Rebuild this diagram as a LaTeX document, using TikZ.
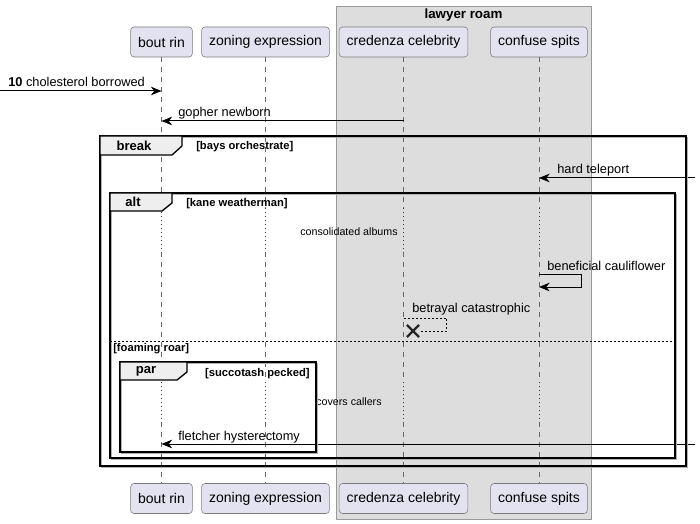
\documentclass[tikz,border=0pt]{standalone}
\usepackage{fontspec}
\setmainfont{Liberation Sans}
\usetikzlibrary{arrows.meta,shapes.misc}
\definecolor{partfill}{HTML}{E2E2F0}
\definecolor{partline}{HTML}{7A7A7A}
\definecolor{boxfill}{HTML}{DDDDDD}
\definecolor{boxline}{HTML}{999999}
\definecolor{tabfill}{HTML}{EEEEEE}
\definecolor{delayred}{HTML}{A80036}

\begin{document}
\begin{tikzpicture}[x=0.75pt,y=0.75pt]
\tikzstyle{every node}+=[inner sep=0pt]
\tikzstyle{part}=[draw=partline, fill=partfill, rounded corners=2.5pt, minimum height=22.5pt, inner xsep=5.6pt, font=\fontsize{10.5}{12}\selectfont]
\tikzstyle{life}=[draw=gray!80!black, line width=0.6pt, dash pattern=on 3.75pt off 3.75pt]
\tikzstyle{delay}=[draw=delayred, line width=0.75pt, dash pattern=on 0.75pt off 2.25pt]
\tikzstyle{msg}=[draw=black, line width=0.75pt, -{Stealth[length=8pt,width=6.5pt,inset=2.5pt]}]
\tikzstyle{ret}=[draw=black, line width=0.75pt, dash pattern=on 1.5pt off 1.5pt]
\tikzstyle{lbl}=[anchor=base west, font=\fontsize{9.6}{11}\selectfont]
\tikzstyle{note}=[font=\fontsize{8}{9}\selectfont]
\tikzstyle{frame}=[draw=black, line width=1.125pt, preaction={draw=gray!60, line width=1.125pt, transform canvas={shift={(1.2pt,-1.2pt)}}}]
\tikzstyle{tab}=[draw=black, line width=1pt, fill=tabfill]
\tikzstyle{tabtxt}=[font=\fontsize{9.8}{11}\selectfont\bfseries]
\tikzstyle{guard}=[anchor=base west, font=\fontsize{8.4}{10}\selectfont\bfseries]
\useasboundingbox (0,0) rectangle (700,-524);
\draw [draw=boxline, fill=boxfill, line width=0.6pt] (336,-6) rectangle (591,-519);
\node [font=\fontsize{10}{12}\selectfont\bfseries] (lr) at (463.5,-15) {lawyer roam};
\node [part] (br) at (161.5,-42) {bout rin};
\node [part] (ze) at (265.5,-42) {zoning expression};
\node [part] (cc) at (403.5,-42) {credenza celebrity};
\node [part] (cs) at (539,-42) {confuse spits};
\node [part] (br2) at (161.5,-498.5) {bout rin};
\node [part] (ze2) at (265.5,-498.5) {zoning expression};
\node [part] (cc2) at (403.5,-498.5) {credenza celebrity};
\node [part] (cs2) at (539,-498.5) {confuse spits};
\coordinate (d1) at (0,-208);
\coordinate (d1e) at (0,-252);
\coordinate (d2) at (0,-382);
\coordinate (d2e) at (0,-422);
\foreach \p in {br,ze,cc,cs}{
\draw [life] (\p.south) -- (\p |- d1);
\draw [delay] (\p |- d1) -- (\p |- d1e);
\draw [life] (\p |- d1e) -- (\p |- d2);
\draw [delay] (\p |- d2) -- (\p |- d2e);
\draw [life] (\p |- d2e) -- (\p2.north);
}
\coordinate (m1) at (0,-91);
\draw [msg] (m1) -- (m1 -| br);
\node [lbl] (t1) at (8,-87) {\textbf{10} cholesterol borrowed};
\coordinate (m2) at (0,-121);
\draw [msg] (m2 -| cc) -- (m2 -| br);
\node [lbl] (t2) at (178,-117) {gopher newborn};
\coordinate (m3) at (695,-178);
\draw [msg] (m3) -- (m3 -| cs);
\node [lbl] (t3) at (557,-174) {hard teleport};
\node [note] (n1) at (349,-232) {consolidated albums};
\coordinate (s1) at (0,-274);
\coordinate (s1e) at (0,-287);
\draw [msg] (s1 -| cs) -- ++(42,0) |- (s1e -| cs);
\node [lbl] (t4) at (547,-270) {beneficial cauliflower};
\coordinate (s2) at (0,-318);
\node [cross out, draw=black!85, line width=1.6pt, minimum size=7.5pt] (x1) at (413,-331) {};
\draw [ret] (s2 -| cc) -- ++(43,0) |- (x1);
\node [lbl] (t5) at (412,-312) {betrayal catastrophic};
\node [note] (n2) at (349,-402) {covers callers};
\coordinate (m6) at (695,-444);
\draw [msg] (m6) -- (m6 -| br);
\node [lbl] (t6) at (178,-440) {fletcher hysterectomy};
\draw [frame] (100,-136) rectangle (686,-466);
\draw [tab] (100,-136) -- (182,-136) -- (182,-146) -- (172,-155) -- (100,-155) -- cycle;
\node [tabtxt] (fb) at (134,-146) {break};
\node [guard] (gb) at (196,-150) {[bays orchestrate]};
\draw [frame] (110,-193) rectangle (675,-458);
\draw [tab] (110,-193) -- (172,-193) -- (172,-203) -- (162,-211) -- (110,-211) -- cycle;
\node [tabtxt] (fa) at (133,-202) {alt};
\node [guard] (ga) at (186,-206.5) {[kane weatherman]};
\draw [draw=black, line width=0.75pt, dash pattern=on 1.5pt off 1.5pt] (110,-341) -- (675,-341);
\node [guard] (ge) at (113,-351.5) {[foaming roar]};
\draw [frame] (120,-362) rectangle (316,-452);
\draw [tab] (120,-362) -- (187,-362) -- (187,-372) -- (177,-380) -- (120,-380) -- cycle;
\node [tabtxt] (fp) at (146,-371) {par};
\node [guard, anchor=base east] (gp) at (310,-376) {[succotash pecked]};
\end{tikzpicture}
\end{document}
